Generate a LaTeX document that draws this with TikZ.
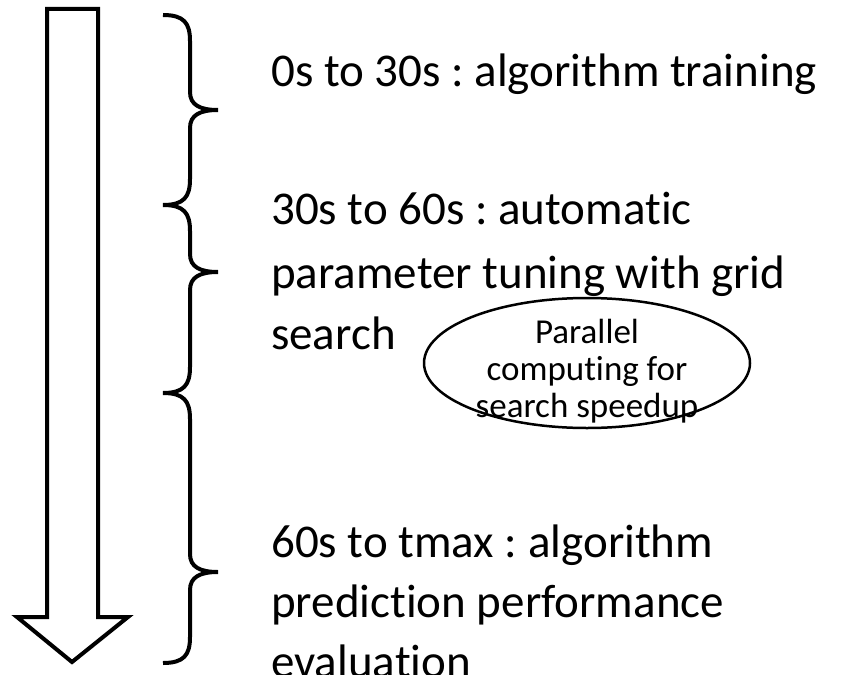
\documentclass[tikz,border=0pt]{standalone}
\usepackage{fontspec}
\setmainfont{Carlito}[Ligatures=NoCommon]
\usetikzlibrary{shapes.geometric}
\frenchspacing

% curly brace spanning y=#1..#2 with its tip at y=#3 (x fixed)
\newcommand{\spanbrace}[4]{%
  \draw[bracestyle] (163,#1)
    .. controls (184,#1) and (190,{#1+8}) .. (190,{#1+26})
    -- (190,{#3-18})
    .. controls (190,{#3-5}) and (200,#3) .. (218,#3) coordinate (#4)
    .. controls (200,#3) and (190,{#3+5}) .. (190,{#3+18})
    -- (190,{#2-26})
    .. controls (190,{#2-8}) and (184,#2) .. (163,#2);}

\begin{document}
\begin{tikzpicture}[x=1pt,y=-1pt,
  bracestyle/.style={line width=4pt},
  timearrow/.style={line width=4pt, line join=miter},
  phase/.style={anchor=base west, inner sep=0pt, font=\fontsize{47}{60}\selectfont},
  note/.style={ellipse, draw, line width=2.5pt, minimum width=326pt, minimum height=130pt,
    inner sep=0pt},
  notetext/.style={inner sep=0pt, align=center, font=\fontsize{35}{37}\selectfont}]
\useasboundingbox (0,0) rectangle (842,674);

% time axis
\draw[timearrow] (47,9) -- (98,9) -- (98,617) -- (128,617) -- (72,662)
  -- (17,617) -- (47,617) -- cycle;

% phase braces
\spanbrace{15}{205}{110}{b1}
\spanbrace{205}{393}{272}{b2}
\spanbrace{393}{663}{572}{b3}

% phase descriptions
\node[phase] (p1a) at (271,87) {0s to 30s : algorithm training};
\node[phase] (p2a) at (271,224) {30s to 60s : automatic};
\node[phase] (p2b) at (271,288) {parameter tuning with grid};
\node[phase] (p2c) at (271,349) {search};
\node[phase] (p3a) at (271,557) {60s to tmax : algorithm};
\node[phase] (p3b) at (271,617) {prediction performance};
\node[phase] (p3c) at (271,677) {evaluation};

% speedup note
\node[note] (par) at (587,363) {};
\node[notetext] (partext) at ([yshift=-8pt]par.center) {Parallel\\computing for\\search speedup};
\end{tikzpicture}
\end{document}
